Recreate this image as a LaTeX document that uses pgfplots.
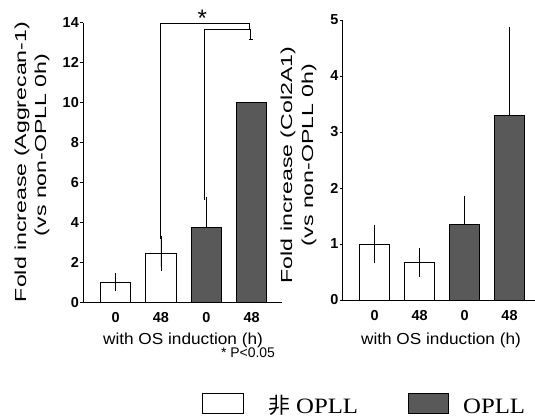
\documentclass[border=0pt]{standalone}
\usepackage{fontspec}
\usepackage{pgfplots}
\pgfplotsset{compat=1.18}
\setmainfont{Liberation Sans}
\newfontfamily\tickfont{Liberation Sans}[FakeStretch=1.0]
\newfontfamily\xlabfont{Liberation Sans}[FakeStretch=1.08]
\newfontfamily\ylabfont{Liberation Sans}[FakeStretch=1.45]
\newfontfamily\legfont{Liberation Serif}[FakeStretch=1.13]
\newfontfamily\cjk{Noto Sans CJK JP}
\definecolor{opll}{gray}{0.35}
\pgfplotsset{
  mystyle/.style={
    scale only axis, clip=false,
    axis lines=left, axis line style={-, line width=0.9bp, black},
    ymin=0,
    xtick={0,1,2,3}, xticklabels={0,48,0,48},
    xtick style={draw=none},
    tick align=outside, major tick length=3bp,
    ytick style={line width=0.9bp, black},
    /pgf/number format/assume math mode=true,
    tick label style={font=\tickfont\bfseries\fontsize{14.5}{15}\selectfont},
    xticklabel style={yshift=-3.5bp},
    yticklabel style={inner sep=1bp},
    every axis plot/.append style={line width=0.9bp},
    error bars/error bar style={line width=0.9bp, black},
    error bars/error mark options={line width=0.9bp, black, mark size=3.5bp},
  }
}
\begin{document}
\begin{tikzpicture}
\useasboundingbox (0,0) rectangle (535bp,419bp);
% ---------------- left axis
\begin{axis}[mystyle, at={(83bp,116.3bp)}, anchor=south west,
  width=199bp, height=280bp, xmin=-0.72, xmax=3.67, ymax=14, ytick={0,2,...,14}]
\addplot[ybar, bar shift=0pt, bar width=0.67, fill=white, draw=black,
  error bars/.cd, y dir=both, y explicit]
  coordinates {(0,1.03) +- (0,0.27) (1,2.47) +- (0,0.71)};
\addplot[ybar, bar shift=0pt, bar width=0.67, fill=opll, draw=black,
  error bars/.cd, y dir=plus, y explicit]
  coordinates {(2,3.75) +- (0,1.38)};
\addplot[ybar, bar shift=0pt, bar width=0.67, fill=opll, draw=black]
  coordinates {(3,10.0)};
% significance brackets
\draw[line width=0.9bp] (axis cs:0.98,3.2) -- (axis cs:0.98,13.97) -- (axis cs:2.96,13.97) -- (axis cs:2.96,13.68);
\draw[line width=0.9bp] (axis cs:1.95,5.15) -- (axis cs:1.95,13.68) -- (axis cs:2.98,13.68) -- (axis cs:2.98,13.17);
\draw[line width=0.9bp] (axis cs:2.94,13.17) -- (axis cs:3.02,13.17);
\node[anchor=base, inner sep=0pt, font=\fontsize{24}{24}\selectfont] at (axis cs:1.91,13.80) {*};
\end{axis}
% ---------------- right axis
\begin{axis}[mystyle, at={(342.7bp,119bp)}, anchor=south west,
  width=192bp, height=280bp, xmin=-0.71, xmax=3.56, ymax=5, ytick={0,1,...,5}]
\addplot[ybar, bar shift=0pt, bar width=0.67, fill=white, draw=black,
  error bars/.cd, y dir=both, y explicit]
  coordinates {(0,1.0) +- (0,0.27) (1,0.67) +- (0,0.19)};
\addplot[ybar, bar shift=0pt, bar width=0.67, fill=opll, draw=black,
  error bars/.cd, y dir=plus, y explicit]
  coordinates {(2,1.35) +- (0,0.45) (3,3.30) +- (0,1.52)};
\end{axis}
% ---------------- labels
\node[rotate=90, inner sep=0pt, font=\ylabfont\fontsize{16}{16}\selectfont] at (22bp,257bp) {Fold increase (Aggrecan-1)};
\node[rotate=90, inner sep=0pt, font=\ylabfont\fontsize{16}{16}\selectfont] at (42bp,274bp) {(vs non-OPLL 0h)};
\node[rotate=90, inner sep=0pt, font=\ylabfont\fontsize{16}{16}\selectfont] at (288bp,254bp) {Fold increase (Col2A1)};
\node[rotate=90, inner sep=0pt, font=\ylabfont\fontsize{16}{16}\selectfont] at (309bp,264bp) {(vs non-OPLL 0h)};
\node[inner sep=0pt, font=\xlabfont\fontsize{16}{16}\selectfont] at (183bp,79bp) {with OS induction (h)};
\node[inner sep=0pt, font=\xlabfont\fontsize{16}{16}\selectfont] at (441bp,79bp) {with OS induction (h)};
\node[inner sep=0pt, font=\tickfont\fontsize{14}{14}\selectfont] at (248bp,66bp) {* P<0.05};
% ---------------- legend
\draw[line width=0.9bp, fill=white] (202bp,6bp) rectangle (243bp,26bp);
\draw[line width=0.9bp, fill=opll] (408bp,6bp) rectangle (448bp,26bp);
\node[anchor=base west, inner sep=0pt, font=\fontsize{22}{22}\selectfont] at (268bp,6bp) {{\cjk 非} {\legfont OPLL}};
\node[anchor=base west, inner sep=0pt, font=\legfont\fontsize{22}{22}\selectfont] at (463bp,6bp) {OPLL};
\end{tikzpicture}
\end{document}
